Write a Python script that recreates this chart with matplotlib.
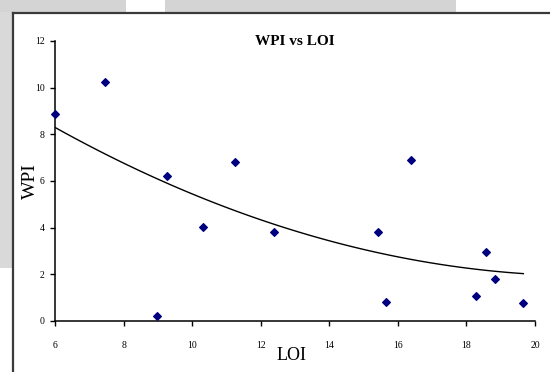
import numpy as np
import matplotlib
matplotlib.use('Agg')
import matplotlib.pyplot as plt
from matplotlib.patches import Rectangle
from matplotlib.lines import Line2D

# data
loi = [6.0, 7.46, 8.98, 9.27, 10.32, 11.26, 12.39, 15.41, 15.66, 16.38, 18.29, 18.56, 18.82, 19.66]
wpi = [8.87, 10.24, 0.21, 6.21, 4.01, 6.81, 3.80, 3.80, 0.83, 6.89, 1.07, 2.97, 1.81, 0.77]

# points
trend_x = [6.05, 8.19, 10.81, 12.47, 15.48, 17.62, 19.66]
trend_y = [8.22, 6.69, 5.00, 4.04, 2.93, 2.33, 2.04]

xticks = [6, 8, 10, 12, 14, 16, 18, 20]
yticks = [0, 2, 4, 6, 8, 10, 12]

W, H = 550, 372
plt.rcParams['font.family'] = ['Liberation Serif', 'DejaVu Serif']

fig = plt.figure(figsize=(W / 100, H / 100), dpi=100)
fig.patch.set_facecolor('white')


def px_rect(x0, y0, x1, y1, color):
    # rectangle in pixel coords (origin top-left)
    fig.add_artist(Rectangle((x0 / W, 1 - y1 / H), (x1 - x0) / W, (y1 - y0) / H,
                             transform=fig.transFigure, facecolor=color,
                             edgecolor='none', zorder=0))


# gray page bits around the chart frame
px_rect(0, 0, 126, 12, '#d4d4d4')
px_rect(165, 0, 456, 12, '#d4d4d4')
px_rect(0, 12, 12, 268, '#d9d9d9')

# chart frame (top and left edges only visible)
fig.add_artist(Line2D([13 / W, 1.0], [1 - 13 / H, 1 - 13 / H], transform=fig.transFigure,
                      color='#3a3a3a', lw=1.6))
fig.add_artist(Line2D([13 / W, 13 / W], [0.0, 1 - 13 / H], transform=fig.transFigure,
                      color='#3a3a3a', lw=1.6))

ax = fig.add_axes([55 / W, (H - 321) / H, (535 - 55) / W, (321 - 41) / H])
ax.set_facecolor('none')

ax.scatter(loi, wpi, marker='D', s=15, color='#000080', zorder=3, clip_on=False)

coef = np.polyfit(trend_x, trend_y, 2)
xs = np.linspace(trend_x[0] - 0.05, trend_x[-1], 100)
ax.plot(xs, np.polyval(coef, xs), color='black', lw=1.0, zorder=2)

ax.set_xlim(6, 20)
ax.set_ylim(0, 12)
ax.set_xticks(xticks)
ax.set_yticks(yticks)
for s in ['top', 'right']:
    ax.spines[s].set_visible(False)
for s in ['left', 'bottom']:
    ax.spines[s].set_linewidth(1.1)
ax.tick_params(axis='both', direction='out', length=3.6, width=1.0, labelsize=7)
ax.tick_params(axis='x', pad=11)
ax.tick_params(axis='y', pad=4)

ax.set_title('WPI vs LOI', fontsize=11, fontweight='bold', pad=0, y=0.985)
ax.set_xlabel('LOI', fontsize=13)
ax.xaxis.set_label_coords((292 - 55) / (535 - 55), -(347 - 321) / (321 - 41))
ax.set_ylabel('WPI', fontsize=14)
ax.yaxis.set_label_coords(-(55 - 39) / (535 - 55), (321 - 181) / (321 - 41))

fig.savefig('out.png', dpi=100)
